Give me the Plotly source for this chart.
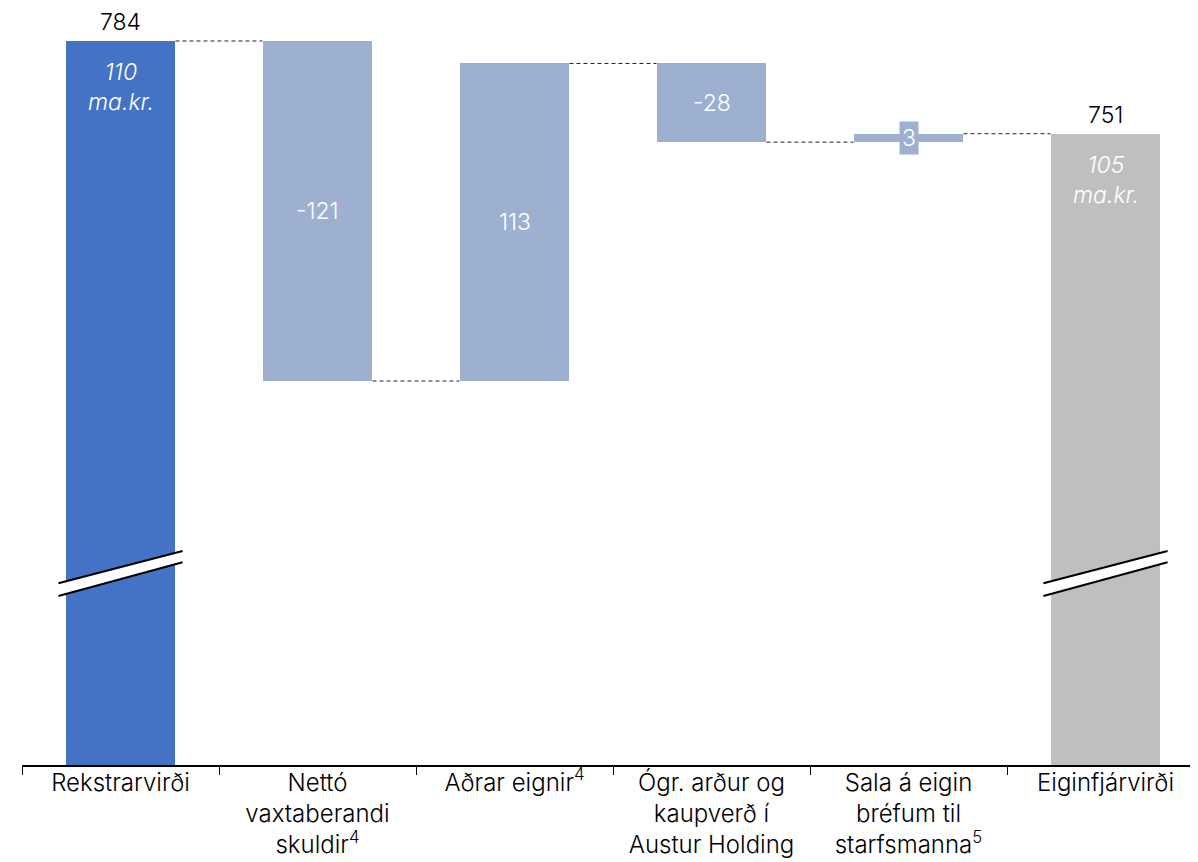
import plotly.graph_objects as go

# categories and values (ma.kr. / m.kr.)
categories = [
    "Rekstrarvirði",
    "Nettó<br>vaxtaberandi<br>skuldir<sup>4</sup>",
    "Aðrar eignir<sup>4</sup>",
    "Ógr. arður og<br>kaupverð í<br>Austur Holding",
    "Sala á eigin<br>bréfum til<br>starfsmanna<sup>5</sup>",
    "Eiginfjárvirði",
]
values = [784, -121, 113, -28, 3, 751]
measures = ["absolute", "relative", "relative", "relative", "relative", "total"]
notes = ["110<br>ma.kr.", "", "", "", "", "105<br>ma.kr."]

COL_START = "#4472C4"
COL_DELTA = "#9EB0CF"
COL_END = "#BFBFBF"
FONT = "Inter"
FW = 300
BAR_W = 0.558

# build bases / heights for the waterfall
bases, heights, colors, levels = [], [], [], []
level = 0
for v, m in zip(values, measures):
    if m == "absolute":
        level = v
        bases.append(0); heights.append(v); colors.append(COL_START)
    elif m == "total":
        bases.append(0); heights.append(level); colors.append(COL_END)
    else:
        new = level + v
        bases.append(min(level, new)); heights.append(abs(v)); colors.append(COL_DELTA)
        level = new
    levels.append(level)

fig = go.Figure()
fig.add_trace(go.Bar(
    x=categories, y=heights, base=bases, width=BAR_W,
    marker=dict(color=colors, line=dict(width=0)),
    hoverinfo="skip", showlegend=False,
))

# dashed connectors between bars
for i in range(len(categories) - 1):
    fig.add_shape(type="line", xref="x", yref="y",
                  x0=i + BAR_W / 2, x1=i + 1 - BAR_W / 2, y0=levels[i], y1=levels[i],
                  line=dict(color="#222222", width=1, dash="4px,3px"))

# labels
for i, (v, m) in enumerate(zip(values, measures)):
    if m in ("absolute", "total"):
        fig.add_annotation(x=i, y=levels[i], text=str(levels[i]), showarrow=False,
                           yanchor="bottom", yshift=3,
                           font=dict(family=FONT, size=23, color="black", weight=FW))
        fig.add_annotation(x=i, y=levels[i] - 16.5, text=f"<i>{notes[i]}</i>", showarrow=False,
                           font=dict(family=FONT, size=23, color="white", weight=FW))
    else:
        mid = bases[i] + heights[i] / 2
        small = heights[i] < 10
        fig.add_annotation(x=i, y=mid, text=str(v), showarrow=False,
                           bgcolor=COL_DELTA if small else None, borderpad=2,
                           font=dict(family=FONT, size=23, color="white", weight=FW))

# axis break marks on the first and last bars
for i in (0, len(categories) - 1):
    x0, x1 = i - 0.315, i + 0.315
    fig.add_shape(type="path", xref="x", yref="y",
                  path=f"M {x0},{591.0} L {x1},{602.5} L {x1},{598.5} L {x0},{586.5} Z",
                  fillcolor="white", line=dict(width=0))
    fig.add_shape(type="line", xref="x", yref="y", x0=x0, y0=591.0, x1=x1, y1=602.5,
                  line=dict(color="black", width=2))
    fig.add_shape(type="line", xref="x", yref="y", x0=x0, y0=586.5, x1=x1, y1=598.5,
                  line=dict(color="black", width=2))

# page body has an 8px margin, so the figure is sized/offset to compensate
fig.update_layout(
    width=1190, height=854,
    margin=dict(l=14, r=0, t=0, b=97),
    plot_bgcolor="white", paper_bgcolor="white",
    font=dict(family=FONT, size=23, color="black", weight=FW),
    bargap=0,
    xaxis=dict(type="category", range=[-0.5, -0.5 + 1176 / 197],
               showline=True, linecolor="black", linewidth=1.5,
               ticks="outside", tickson="boundaries", ticklen=8, tickcolor="black",
               ticklabelstandoff=-5,
               showgrid=False, tickfont=dict(family=FONT, size=24, color="black", weight=FW)),
    yaxis=dict(range=[526.35, 795.74], visible=False, showgrid=False, zeroline=False),
)

fig.write_html("out.html")
